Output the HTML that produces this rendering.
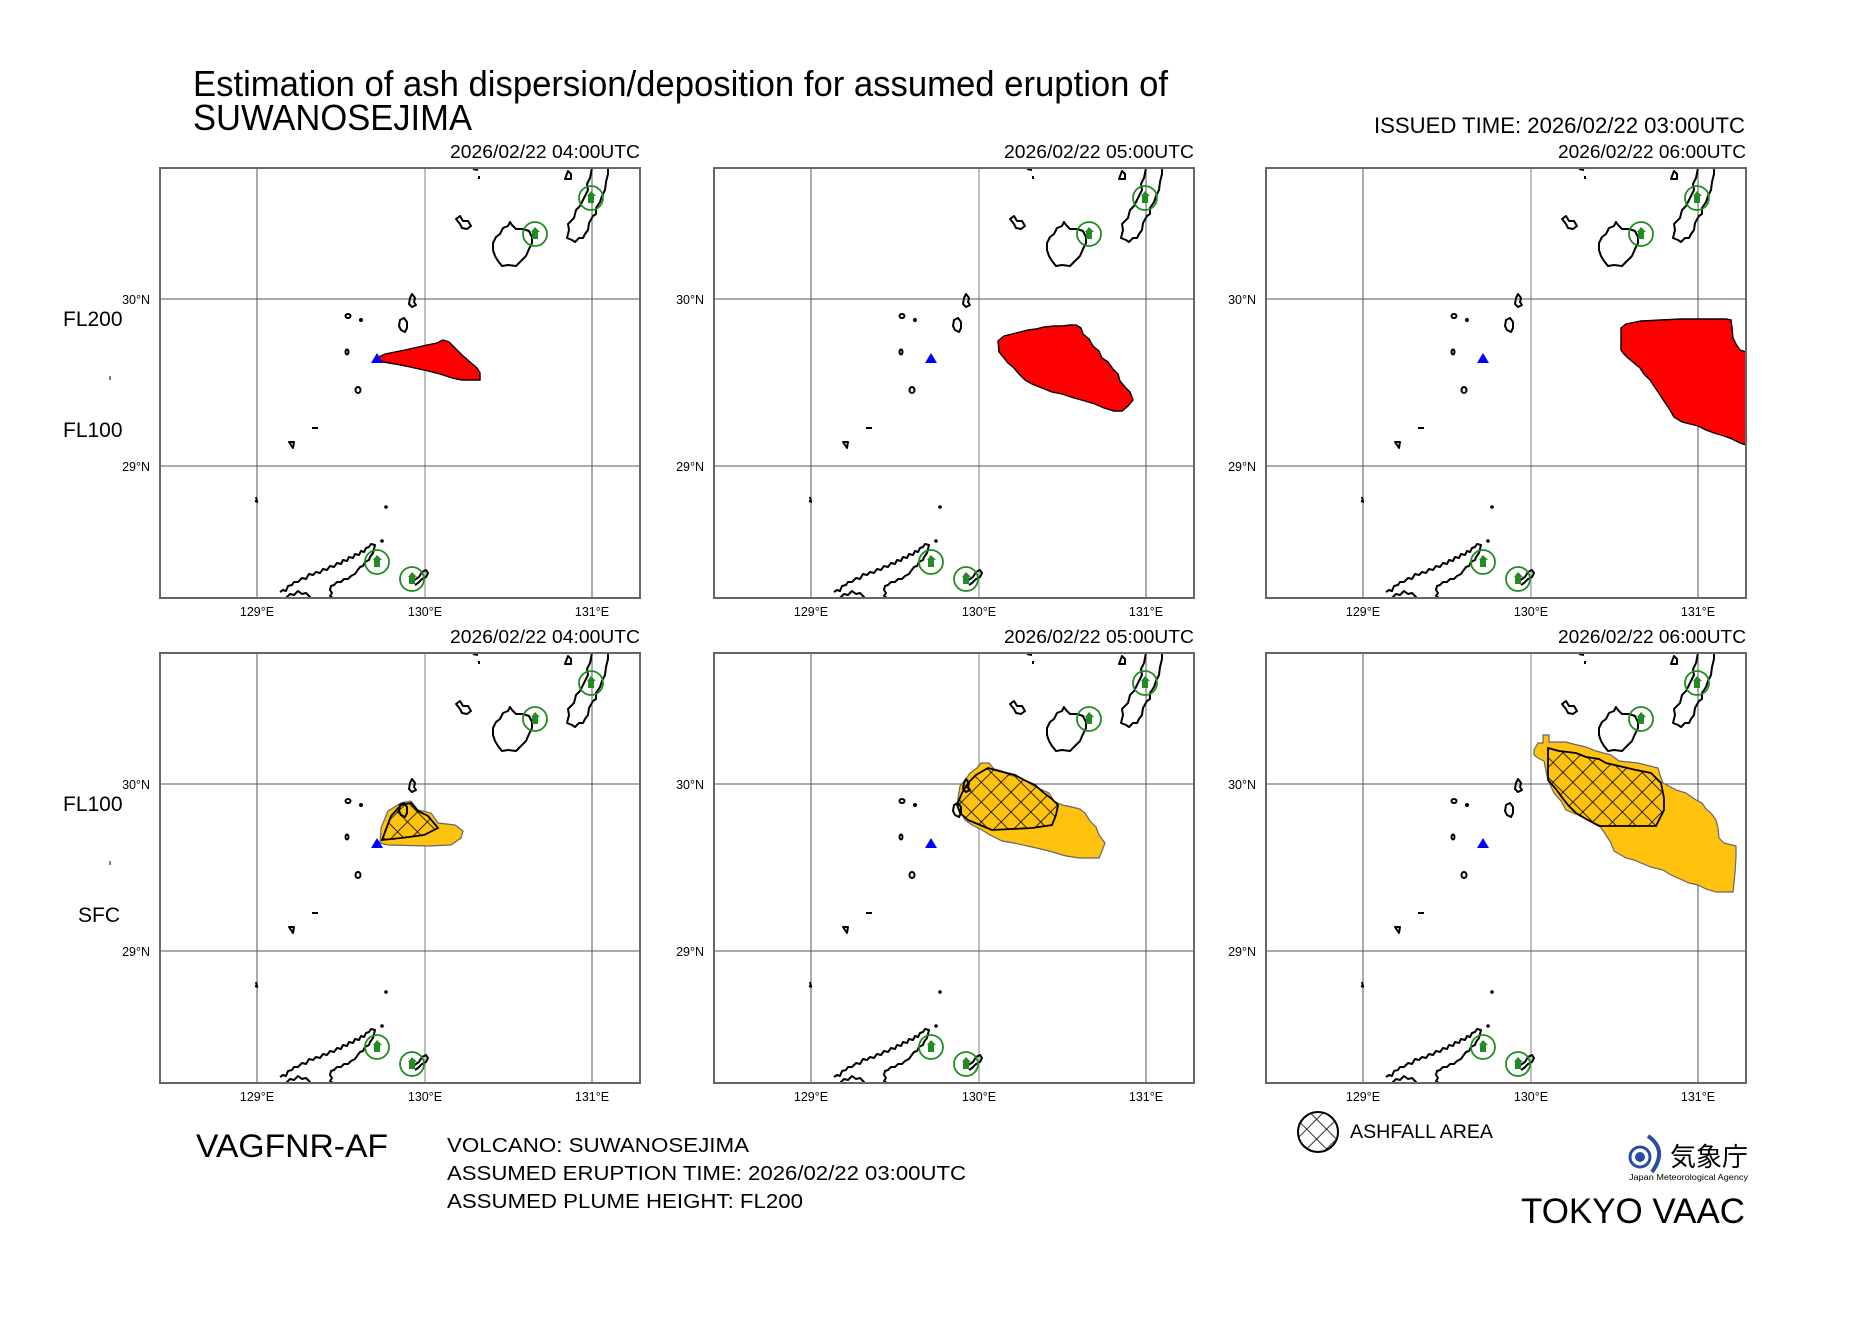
<!DOCTYPE html>
<html><head><meta charset="utf-8"><style>html,body{margin:0;padding:0;background:#fff}svg{display:block}</style></head>
<body>
<svg xmlns="http://www.w3.org/2000/svg" xmlns:xlink="http://www.w3.org/1999/xlink" width="1869" height="1322" viewBox="0 0 1869 1322" font-family="Liberation Sans, sans-serif">
<defs>
<clipPath id="pc"><rect x="0" y="0" width="480" height="430"/></clipPath>
<pattern id="hatch" patternUnits="userSpaceOnUse" width="14" height="14" patternTransform="rotate(45)">
<rect width="14" height="14" fill="none"/>
<line x1="0" y1="0" x2="0" y2="14" stroke="#000" stroke-width="1.6"/>
<line x1="0" y1="0" x2="14" y2="0" stroke="#000" stroke-width="1.6"/>
</pattern>
<g id="grid">
<line x1="97" y1="0" x2="97" y2="430" stroke="#555" stroke-width="1"/>
<line x1="265" y1="0" x2="265" y2="430" stroke="#aaa" stroke-width="1.5"/>
<line x1="432" y1="0" x2="432" y2="430" stroke="#555" stroke-width="1"/>
<line x1="0" y1="131" x2="480" y2="131" stroke="#555" stroke-width="1"/>
<line x1="0" y1="298" x2="480" y2="298" stroke="#555" stroke-width="1"/>
</g>
<g id="map" fill="none" stroke="#000" stroke-width="2" stroke-linejoin="round">
<path d="M432 0 L430 10 L427 16 L428 22 L424 30 L420 38 L416 42 L414 50 L408 56 L409 62 L407 70 L412 72 L415 74 L419 70 L423 70 L425 66 L428 62 L429 55 L433 48 L436 46 L436 40 L440 34 L442 28 L445 22 L446 14 L448 6 L448 0"/>
<path d="M405 11 L408 3 L411 6 L411 11 Z"/>
<path d="M313 1 L318 2 M319 8 L319 11"/>
<path d="M336 69 L340 66 L343 60 L348 58 L350 54 L352 57 L356 61 L363 61 L369 63 L372 69 L372 75 L369 81 L366 88 L361 93 L356 98 L348 97 L342 98 L338 93 L335 88 L333 82 L333 75 Z"/>
<path d="M296 51 L300 48 L303 53 L308 53 L311 58 L307 61 L302 60 L300 56 Z"/>
<path d="M250 130 L252 126 L255 130 L254 134 L256 137 L252 139 L249 136 Z"/>
<path d="M240 152 L244 150 L247 154 L247 160 L245 164 L241 162 L239 158 Z"/>
<ellipse cx="188" cy="148" rx="2.5" ry="2"/>
<circle cx="201" cy="152" r="1"/>
<ellipse cx="187" cy="184" rx="1.5" ry="2.5"/>
<ellipse cx="198" cy="222" rx="2.5" ry="3"/>
<path d="M152 260 L158 260"/>
<path d="M129 274 L134 274 L133 280 Z"/>
<path d="M96 329 L97 333 M95 333 L98 334"/>
<circle cx="226" cy="339" r="0.8"/>
<circle cx="222" cy="373" r="0.8"/>
<path d="M120 424 L123 422 L126 423 L128 418 L132 417 L134 414 L138 414 L142 410 L146 411 L149 406 L153 407 L156 404 L160 405 L163 401 L167 402 L170 398 L174 399 L177 395 L181 396 L183 392 L187 393 L189 389 L193 390 L195 386 L199 387 L201 383 L204 384 L206 380 L209 379 L211 376 L215 377 L214 381 L213 385 L210 389 L209 392 L205 394 L203 398 L200 399 L197 403 L195 406 L191 408 L188 411 L184 411 L181 414 L177 414 L174 417 L171 418 L170 422 L172 425 L170 428 L173 430"/>
<path d="M126 430 L130 426 L134 427 L138 423 L142 426 L146 425 L150 429 L148 430"/>
<path d="M252 414 L256 411 L259 409 L262 404 L266 402 L268 405 L266 409 L262 411 L258 415 L255 417"/>
<circle cx="217" cy="394" r="12" stroke="#228B22" stroke-width="1.8"/>
<circle cx="252" cy="411" r="12" stroke="#228B22" stroke-width="1.8"/>
<circle cx="375" cy="66" r="12" stroke="#228B22" stroke-width="1.8"/>
<circle cx="431" cy="30" r="12" stroke="#228B22" stroke-width="1.8"/>
</g>
<g id="houses" fill="#228B22">
<path d="M213 392 L217 387 L222 392 L220 392 L220 399 L214 399 L214 392 Z"/>
<path d="M248 409 L252 404 L257 409 L255 409 L255 416 L249 416 L249 409 Z"/>
<path d="M371 64 L375 59 L380 64 L378 64 L378 71 L372 71 L372 64 Z"/>
<path d="M427 28 L431 23 L436 28 L434 28 L434 35 L428 35 L428 28 Z"/>
</g>
<path id="volc" d="M211 195 L217 185 L223 195 Z" fill="#0000ff"/>
</defs>

<text x="193" y="96" font-size="36" textLength="975" lengthAdjust="spacingAndGlyphs">Estimation of ash dispersion/deposition for assumed eruption of</text>
<text x="193" y="130" font-size="36" textLength="279" lengthAdjust="spacingAndGlyphs">SUWANOSEJIMA</text>
<text x="1745" y="133" font-size="22" text-anchor="end" textLength="371" lengthAdjust="spacingAndGlyphs">ISSUED TIME: 2026/02/22 03:00UTC</text>

<text x="63" y="326" font-size="21">FL200</text>
<text x="63" y="437" font-size="21">FL100</text>
<rect x="109.5" y="376" width="1" height="4" fill="#000"/>
<text x="63" y="811" font-size="21">FL100</text>
<text x="78" y="922" font-size="21">SFC</text>
<rect x="109.5" y="861" width="1" height="4" fill="#000"/>

<g transform="translate(160,168)">
<text x="480" y="-10" font-size="18" text-anchor="end" textLength="190" lengthAdjust="spacingAndGlyphs">2026/02/22 04:00UTC</text>
<g clip-path="url(#pc)">
<use xlink:href="#grid"/>
<path d="M217 190 L225 186 L245 182 L258 179 L267 177 L277 175 L283 172 L289 174 L295 180 L302 187 L310 194 L317 200 L320 205 L320 212 L302 212 L292 210 L280 206 L268 203 L250 199 L235 196 L223 194 Z" fill="#ff0000" stroke="#000" stroke-width="1.4"/>
<use xlink:href="#map"/><use xlink:href="#houses"/><use xlink:href="#volc"/>
</g>
<rect x="0" y="0" width="480" height="430" fill="none" stroke="#666" stroke-width="2"/>
</g>
<g transform="translate(714,168)">
<text x="480" y="-10" font-size="18" text-anchor="end" textLength="190" lengthAdjust="spacingAndGlyphs">2026/02/22 05:00UTC</text>
<g clip-path="url(#pc)">
<use xlink:href="#grid"/>
<path d="M284 173 L290 168 L298 166 L306 164 L314 162 L322 161 L330 159 L340 158 L348 158 L356 157 L362 157 L367 160 L369 166 L375 171 L379 178 L385 183 L388 190 L394 194 L399 201 L404 206 L406 213 L411 219 L416 224 L419 232 L414 238 L408 243 L400 243 L390 240 L381 236 L371 233 L360 230 L348 226 L338 224 L328 220 L318 216 L311 212 L305 206 L300 200 L294 195 L290 190 L285 184 Z" fill="#ff0000" stroke="#000" stroke-width="1.4"/>
<use xlink:href="#map"/><use xlink:href="#houses"/><use xlink:href="#volc"/>
</g>
<rect x="0" y="0" width="480" height="430" fill="none" stroke="#666" stroke-width="2"/>
</g>
<g transform="translate(1266,168)">
<text x="480" y="-10" font-size="18" text-anchor="end" textLength="188" lengthAdjust="spacingAndGlyphs">2026/02/22 06:00UTC</text>
<g clip-path="url(#pc)">
<use xlink:href="#grid"/>
<path d="M294 155 L300 152 L315 150 L330 149 L355 149 L362 150 L363 158 L366 166 L370 174 L378 178 L380 187 L386 187 L390 195 L396 202 L480 202 L480 277 Z" fill="none"/>
<path d="M355 160 L360 156 L375 153 L395 152 L415 151 L440 151 L460 151 L465 152 L466 160 L467 170 L470 176 L474 182 L480 184 L480 277 L474 275 L466 271 L458 268 L448 265 L440 262 L432 258 L424 256 L416 254 L408 249 L404 242 L400 236 L396 230 L392 224 L388 218 L384 212 L378 206 L374 200 L368 195 L362 190 L358 186 L355 182 Z" fill="#ff0000" stroke="#000" stroke-width="1.4"/>
<use xlink:href="#map"/><use xlink:href="#houses"/><use xlink:href="#volc"/>
</g>
<rect x="0" y="0" width="480" height="430" fill="none" stroke="#666" stroke-width="2"/>
</g>

<g transform="translate(160,653)">
<text x="480" y="-10" font-size="18" text-anchor="end" textLength="190" lengthAdjust="spacingAndGlyphs">2026/02/22 04:00UTC</text>
<g clip-path="url(#pc)">
<use xlink:href="#grid"/>
<path d="M221 175 L228 158 L241 150 L251 148 L258 157 L271 160 L278 170 L295 172 L303 178 L301 185 L291 192 L268 193 L228 192 L220 190 Z" fill="#ffc20e" stroke="#666" stroke-width="1.2"/>
<path d="M222 187 L231 163 L241 152 L251 150 L258 158 L268 163 L278 175 L264 182 L241 185 Z" fill="url(#hatch)" stroke="#000" stroke-width="1.8"/>
<use xlink:href="#map"/><use xlink:href="#houses"/><use xlink:href="#volc"/>
</g>
<rect x="0" y="0" width="480" height="430" fill="none" stroke="#666" stroke-width="2"/>
</g>
<g transform="translate(714,653)">
<text x="480" y="-10" font-size="18" text-anchor="end" textLength="190" lengthAdjust="spacingAndGlyphs">2026/02/22 05:00UTC</text>
<g clip-path="url(#pc)">
<use xlink:href="#grid"/>
<path d="M243 152 L246 133 L252 126 L256 120 L263 115 L267 110 L275 110 L280 116 L288 118 L295 122 L305 124 L312 128 L318 132 L326 136 L335 140 L340 148 L348 152 L358 154 L366 156 L371 160 L376 168 L382 174 L385 182 L391 190 L388 198 L385 205 L365 205 L352 203 L335 198 L318 194 L300 190 L288 188 L276 182 L268 177 L258 172 L251 167 Z" fill="#ffc20e" stroke="#666" stroke-width="1.2"/>
<path d="M243 152 L248 140 L254 130 L262 122 L274 115 L285 118 L301 122 L312 128 L321 132 L330 140 L338 146 L344 152 L342 162 L338 172 L318 175 L298 176 L278 177 L266 172 L254 167 L246 160 Z" fill="url(#hatch)" stroke="#000" stroke-width="1.8"/>
<use xlink:href="#map"/><use xlink:href="#houses"/><use xlink:href="#volc"/>
</g>
<rect x="0" y="0" width="480" height="430" fill="none" stroke="#666" stroke-width="2"/>
</g>
<g transform="translate(1266,653)">
<text x="480" y="-10" font-size="18" text-anchor="end" textLength="188" lengthAdjust="spacingAndGlyphs">2026/02/22 06:00UTC</text>
<g clip-path="url(#pc)">
<use xlink:href="#grid"/>
<path d="M268 97 L272 90 L277 90 L277 82 L283 82 L283 89 L300 89 L307 91 L320 94 L330 98 L345 102 L353 108 L372 110 L392 115 L394 122 L397 130 L410 137 L420 140 L430 147 L436 150 L440 156 L445 160 L450 167 L452 175 L453 185 L458 190 L470 193 L470 205 L469 220 L467 239 L450 239 L440 236 L432 232 L423 230 L414 226 L405 222 L397 217 L385 214 L375 210 L368 207 L360 205 L348 198 L345 190 L340 182 L333 172 L320 166 L312 162 L300 157 L295 148 L288 140 L282 127 L280 118 L278 108 L272 105 L268 102 Z" fill="#ffc20e" stroke="#666" stroke-width="1.2"/>
<path d="M282 95 L293 98 L310 100 L320 104 L333 106 L340 110 L353 113 L370 117 L385 120 L395 130 L398 145 L398 157 L394 165 L390 173 L350 173 L333 173 L320 166 L310 160 L302 152 L295 143 L290 136 L282 127 Z" fill="url(#hatch)" stroke="#000" stroke-width="1.8"/>
<use xlink:href="#map"/><use xlink:href="#houses"/><use xlink:href="#volc"/>
</g>
<rect x="0" y="0" width="480" height="430" fill="none" stroke="#666" stroke-width="2"/>
</g>

<g font-size="12.5" text-anchor="middle">
<text x="257" y="616">129°E</text><text x="425" y="616">130°E</text><text x="592" y="616">131°E</text>
<text x="811" y="616">129°E</text><text x="979" y="616">130°E</text><text x="1146" y="616">131°E</text>
<text x="1363" y="616">129°E</text><text x="1531" y="616">130°E</text><text x="1698" y="616">131°E</text>
<text x="257" y="1101">129°E</text><text x="425" y="1101">130°E</text><text x="592" y="1101">131°E</text>
<text x="811" y="1101">129°E</text><text x="979" y="1101">130°E</text><text x="1146" y="1101">131°E</text>
<text x="1363" y="1101">129°E</text><text x="1531" y="1101">130°E</text><text x="1698" y="1101">131°E</text>
</g>
<g font-size="12.5" text-anchor="end">
<text x="150" y="304">30°N</text><text x="150" y="471">29°N</text>
<text x="704" y="304">30°N</text><text x="704" y="471">29°N</text>
<text x="1256" y="304">30°N</text><text x="1256" y="471">29°N</text>
<text x="150" y="789">30°N</text><text x="150" y="956">29°N</text>
<text x="704" y="789">30°N</text><text x="704" y="956">29°N</text>
<text x="1256" y="789">30°N</text><text x="1256" y="956">29°N</text>
</g>

<text x="196" y="1157" font-size="32" textLength="192" lengthAdjust="spacingAndGlyphs">VAGFNR-AF</text>
<text x="447" y="1152" font-size="20" textLength="302" lengthAdjust="spacingAndGlyphs">VOLCANO: SUWANOSEJIMA</text>
<text x="447" y="1180" font-size="20" textLength="519" lengthAdjust="spacingAndGlyphs">ASSUMED ERUPTION TIME: 2026/02/22 03:00UTC</text>
<text x="447" y="1208" font-size="20" textLength="356" lengthAdjust="spacingAndGlyphs">ASSUMED PLUME HEIGHT: FL200</text>

<circle cx="1318" cy="1132" r="20" fill="url(#hatch)" stroke="#000" stroke-width="2"/>
<text x="1350" y="1138" font-size="19" textLength="143" lengthAdjust="spacingAndGlyphs">ASHFALL AREA</text>

<circle cx="1640" cy="1157" r="10" fill="#fff" stroke="#2b4ba0" stroke-width="3"/>
<circle cx="1640" cy="1157" r="5" fill="#2b4ba0"/>
<path d="M1648 1136 Q1668 1150 1652 1172" fill="none" stroke="#2b4ba0" stroke-width="4"/>
<text x="1670" y="1166" font-size="26" font-family="Noto Sans CJK JP, sans-serif" textLength="78" lengthAdjust="spacingAndGlyphs">気象庁</text>
<text x="1629" y="1180" font-size="8" textLength="119" lengthAdjust="spacingAndGlyphs">Japan Meteorological Agency</text>
<text x="1521" y="1223" font-size="35" textLength="224" lengthAdjust="spacingAndGlyphs">TOKYO VAAC</text>
</svg>
</body></html>
